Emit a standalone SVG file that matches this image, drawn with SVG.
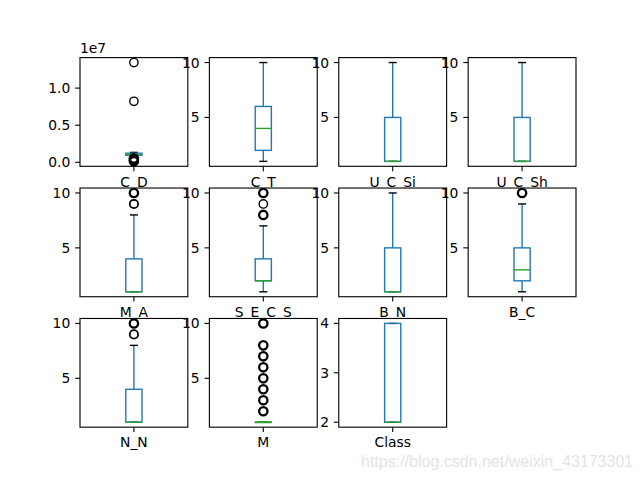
<svg xmlns="http://www.w3.org/2000/svg" width="640" height="480" viewBox="0 0 640 480">
<style>
.bg{fill:#fff;stroke:none}
.sp{fill:none;stroke:#000;stroke-width:1.11}
.wh{stroke:#1f77b4;stroke-width:1.39;fill:none}
.bx{fill:none;stroke:#1f77b4;stroke-width:1.39}
.md{stroke:#2ca02c;stroke-width:1.39}
.cp{stroke:#000;stroke-width:1.39}
.fl{fill:none;stroke:#000;stroke-width:1.39}
.fb{fill:none;stroke:#000;stroke-width:2.3}
.fm{fill:none;stroke:#000;stroke-width:1.8}
.tk{stroke:#000;stroke-width:1.11}
text{font-family:"DejaVu Sans",sans-serif;font-size:13.89px;fill:#000}
.yl{text-anchor:end}
.xl{text-anchor:middle}
.wm{font-family:"Liberation Sans",Arial,sans-serif;font-size:16px;fill:#e4e4e4}
</style>
<rect width="640" height="480" fill="#fff"/>

<g id="ax-C_D">
<rect class="bg" x="80" y="57.6" width="107.83" height="108.7"/>
<line class="wh" x1="133.91" y1="153.2" x2="133.91" y2="152.4"/>
<line class="wh" x1="133.91" y1="155.2" x2="133.91" y2="156.6"/>
<line class="cp" x1="129.87" y1="152.4" x2="137.95" y2="152.4"/>
<line class="cp" x1="129.87" y1="156.6" x2="137.95" y2="156.6"/>
<rect class="bx" x="125.82" y="153.2" width="16.18" height="2"/>
<line class="md" x1="125.82" y1="154.2" x2="142" y2="154.2"/>
<circle class="fl" cx="133.91" cy="62.54" r="4.17"/>
<circle class="fl" cx="133.91" cy="101.3" r="4.17"/>
<circle class="fb" cx="133.91" cy="158.4" r="4.17"/>
<circle class="fb" cx="133.91" cy="159.8" r="4.17"/>
<circle class="fb" cx="133.91" cy="161.36" r="4.17"/>
<rect class="sp" x="80" y="57.6" width="107.83" height="108.7"/>
<line class="tk" x1="75.14" y1="162.3" x2="80" y2="162.3"/>
<line class="tk" x1="75.14" y1="125.2" x2="80" y2="125.2"/>
<line class="tk" x1="75.14" y1="88.1" x2="80" y2="88.1"/>
<text class="yl" x="70.28" y="167.35">0.0</text>
<text class="yl" x="70.28" y="130.25">0.5</text>
<text class="yl" x="70.28" y="93.15">1.0</text>
<text x="80" y="53.3">1e7</text>
<line class="tk" x1="133.91" y1="166.3" x2="133.91" y2="171.16"/>
<text class="xl" x="133.91" y="186.6">C_D</text>
</g>

<g id="ax-C_T">
<rect class="bg" x="209.39" y="57.6" width="107.83" height="108.7"/>
<line class="wh" x1="263.3" y1="150.38" x2="263.3" y2="161.36"/>
<line class="wh" x1="263.3" y1="106.46" x2="263.3" y2="62.54"/>
<line class="cp" x1="259.26" y1="161.36" x2="267.34" y2="161.36"/>
<line class="cp" x1="259.26" y1="62.54" x2="267.34" y2="62.54"/>
<rect class="bx" x="255.21" y="106.46" width="16.18" height="43.92"/>
<line class="md" x1="255.21" y1="128.42" x2="271.39" y2="128.42"/>
<rect class="sp" x="209.39" y="57.6" width="107.83" height="108.7"/>
<line class="tk" x1="204.53" y1="117.44" x2="209.39" y2="117.44"/>
<line class="tk" x1="204.53" y1="62.54" x2="209.39" y2="62.54"/>
<text class="yl" x="199.67" y="122.49">5</text>
<text class="yl" x="199.67" y="67.59">10</text>
<line class="tk" x1="263.3" y1="166.3" x2="263.3" y2="171.16"/>
<text class="xl" x="263.3" y="186.6">C_T</text>
</g>

<g id="ax-U_C_Si">
<rect class="bg" x="338.78" y="57.6" width="107.83" height="108.7"/>
<line class="wh" x1="392.7" y1="117.44" x2="392.7" y2="62.54"/>
<line class="cp" x1="388.66" y1="161.36" x2="396.74" y2="161.36"/>
<line class="cp" x1="388.66" y1="62.54" x2="396.74" y2="62.54"/>
<rect class="bx" x="384.61" y="117.44" width="16.18" height="43.92"/>
<line class="md" x1="384.61" y1="161.36" x2="400.79" y2="161.36"/>
<rect class="sp" x="338.78" y="57.6" width="107.83" height="108.7"/>
<line class="tk" x1="333.92" y1="117.44" x2="338.78" y2="117.44"/>
<line class="tk" x1="333.92" y1="62.54" x2="338.78" y2="62.54"/>
<text class="yl" x="329.06" y="122.49">5</text>
<text class="yl" x="329.06" y="67.59">10</text>
<line class="tk" x1="392.7" y1="166.3" x2="392.7" y2="171.16"/>
<text class="xl" x="392.7" y="186.6">U_C_Si</text>
</g>

<g id="ax-U_C_Sh">
<rect class="bg" x="468.17" y="57.6" width="107.83" height="108.7"/>
<line class="wh" x1="522.09" y1="117.44" x2="522.09" y2="62.54"/>
<line class="cp" x1="518.05" y1="161.36" x2="526.13" y2="161.36"/>
<line class="cp" x1="518.05" y1="62.54" x2="526.13" y2="62.54"/>
<rect class="bx" x="514" y="117.44" width="16.18" height="43.92"/>
<line class="md" x1="514" y1="161.36" x2="530.18" y2="161.36"/>
<rect class="sp" x="468.17" y="57.6" width="107.83" height="108.7"/>
<line class="tk" x1="463.31" y1="117.44" x2="468.17" y2="117.44"/>
<line class="tk" x1="463.31" y1="62.54" x2="468.17" y2="62.54"/>
<text class="yl" x="458.45" y="122.49">5</text>
<text class="yl" x="458.45" y="67.59">10</text>
<line class="tk" x1="522.09" y1="166.3" x2="522.09" y2="171.16"/>
<text class="xl" x="522.09" y="186.6">U_C_Sh</text>
</g>

<g id="ax-M_A">
<rect class="bg" x="80" y="188.03" width="107.83" height="108.7"/>
<line class="wh" x1="133.91" y1="258.85" x2="133.91" y2="214.93"/>
<line class="cp" x1="129.87" y1="291.79" x2="137.95" y2="291.79"/>
<line class="cp" x1="129.87" y1="214.93" x2="137.95" y2="214.93"/>
<rect class="bx" x="125.82" y="258.85" width="16.18" height="32.94"/>
<line class="md" x1="125.82" y1="291.79" x2="142" y2="291.79"/>
<circle class="fm" cx="133.91" cy="203.95" r="4.17"/>
<circle class="fb" cx="133.91" cy="192.97" r="4.17"/>
<rect class="sp" x="80" y="188.03" width="107.83" height="108.7"/>
<line class="tk" x1="75.14" y1="247.87" x2="80" y2="247.87"/>
<line class="tk" x1="75.14" y1="192.97" x2="80" y2="192.97"/>
<text class="yl" x="70.28" y="252.92">5</text>
<text class="yl" x="70.28" y="198.02">10</text>
<line class="tk" x1="133.91" y1="296.73" x2="133.91" y2="301.59"/>
<text class="xl" x="133.91" y="317.03">M_A</text>
</g>

<g id="ax-S_E_C_S">
<rect class="bg" x="209.39" y="188.03" width="107.83" height="108.7"/>
<line class="wh" x1="263.3" y1="280.81" x2="263.3" y2="291.79"/>
<line class="wh" x1="263.3" y1="258.85" x2="263.3" y2="225.91"/>
<line class="cp" x1="259.26" y1="291.79" x2="267.34" y2="291.79"/>
<line class="cp" x1="259.26" y1="225.91" x2="267.34" y2="225.91"/>
<rect class="bx" x="255.21" y="258.85" width="16.18" height="21.96"/>
<line class="md" x1="255.21" y1="280.81" x2="271.39" y2="280.81"/>
<circle class="fb" cx="263.3" cy="214.93" r="4.17"/>
<circle class="fl" cx="263.3" cy="203.95" r="4.17"/>
<circle class="fb" cx="263.3" cy="192.97" r="4.17"/>
<rect class="sp" x="209.39" y="188.03" width="107.83" height="108.7"/>
<line class="tk" x1="204.53" y1="247.87" x2="209.39" y2="247.87"/>
<line class="tk" x1="204.53" y1="192.97" x2="209.39" y2="192.97"/>
<text class="yl" x="199.67" y="252.92">5</text>
<text class="yl" x="199.67" y="198.02">10</text>
<line class="tk" x1="263.3" y1="296.73" x2="263.3" y2="301.59"/>
<text class="xl" x="263.3" y="317.03">S_E_C_S</text>
</g>

<g id="ax-B_N">
<rect class="bg" x="338.78" y="188.03" width="107.83" height="108.7"/>
<line class="wh" x1="392.7" y1="247.87" x2="392.7" y2="192.97"/>
<line class="cp" x1="388.66" y1="291.79" x2="396.74" y2="291.79"/>
<line class="cp" x1="388.66" y1="192.97" x2="396.74" y2="192.97"/>
<rect class="bx" x="384.61" y="247.87" width="16.18" height="43.92"/>
<line class="md" x1="384.61" y1="291.79" x2="400.79" y2="291.79"/>
<rect class="sp" x="338.78" y="188.03" width="107.83" height="108.7"/>
<line class="tk" x1="333.92" y1="247.87" x2="338.78" y2="247.87"/>
<line class="tk" x1="333.92" y1="192.97" x2="338.78" y2="192.97"/>
<text class="yl" x="329.06" y="252.92">5</text>
<text class="yl" x="329.06" y="198.02">10</text>
<line class="tk" x1="392.7" y1="296.73" x2="392.7" y2="301.59"/>
<text class="xl" x="392.7" y="317.03">B_N</text>
</g>

<g id="ax-B_C">
<rect class="bg" x="468.17" y="188.03" width="107.83" height="108.7"/>
<line class="wh" x1="522.09" y1="280.81" x2="522.09" y2="291.79"/>
<line class="wh" x1="522.09" y1="247.87" x2="522.09" y2="203.95"/>
<line class="cp" x1="518.05" y1="291.79" x2="526.13" y2="291.79"/>
<line class="cp" x1="518.05" y1="203.95" x2="526.13" y2="203.95"/>
<rect class="bx" x="514" y="247.87" width="16.18" height="32.94"/>
<line class="md" x1="514" y1="269.83" x2="530.18" y2="269.83"/>
<circle class="fb" cx="522.09" cy="192.97" r="4.17"/>
<rect class="sp" x="468.17" y="188.03" width="107.83" height="108.7"/>
<line class="tk" x1="463.31" y1="247.87" x2="468.17" y2="247.87"/>
<line class="tk" x1="463.31" y1="192.97" x2="468.17" y2="192.97"/>
<text class="yl" x="458.45" y="252.92">5</text>
<text class="yl" x="458.45" y="198.02">10</text>
<line class="tk" x1="522.09" y1="296.73" x2="522.09" y2="301.59"/>
<text class="xl" x="522.09" y="317.03">B_C</text>
</g>

<g id="ax-N_N">
<rect class="bg" x="80" y="318.47" width="107.83" height="108.7"/>
<line class="wh" x1="133.91" y1="389.29" x2="133.91" y2="345.37"/>
<line class="cp" x1="129.87" y1="422.23" x2="137.95" y2="422.23"/>
<line class="cp" x1="129.87" y1="345.37" x2="137.95" y2="345.37"/>
<rect class="bx" x="125.82" y="389.29" width="16.18" height="32.94"/>
<line class="md" x1="125.82" y1="422.23" x2="142" y2="422.23"/>
<circle class="fm" cx="133.91" cy="334.39" r="4.17"/>
<circle class="fb" cx="133.91" cy="323.41" r="4.17"/>
<rect class="sp" x="80" y="318.47" width="107.83" height="108.7"/>
<line class="tk" x1="75.14" y1="378.31" x2="80" y2="378.31"/>
<line class="tk" x1="75.14" y1="323.41" x2="80" y2="323.41"/>
<text class="yl" x="70.28" y="383.36">5</text>
<text class="yl" x="70.28" y="328.46">10</text>
<line class="tk" x1="133.91" y1="427.17" x2="133.91" y2="432.03"/>
<text class="xl" x="133.91" y="447.47">N_N</text>
</g>

<g id="ax-M">
<rect class="bg" x="209.39" y="318.47" width="107.83" height="108.7"/>
<line class="cp" x1="259.26" y1="422.23" x2="267.34" y2="422.23"/>
<rect class="bx" x="255.21" y="422.23" width="16.18" height="0.01"/>
<line class="md" x1="255.21" y1="422.23" x2="271.39" y2="422.23" style="stroke-width:2"/>
<circle class="fb" cx="263.3" cy="411.25" r="4.17"/>
<circle class="fb" cx="263.3" cy="400.27" r="4.17"/>
<circle class="fb" cx="263.3" cy="389.29" r="4.17"/>
<circle class="fb" cx="263.3" cy="378.31" r="4.17"/>
<circle class="fb" cx="263.3" cy="367.33" r="4.17"/>
<circle class="fb" cx="263.3" cy="356.35" r="4.17"/>
<circle class="fb" cx="263.3" cy="345.37" r="4.17"/>
<circle class="fb" cx="263.3" cy="323.41" r="4.17"/>
<rect class="sp" x="209.39" y="318.47" width="107.83" height="108.7"/>
<line class="tk" x1="204.53" y1="378.31" x2="209.39" y2="378.31"/>
<line class="tk" x1="204.53" y1="323.41" x2="209.39" y2="323.41"/>
<text class="yl" x="199.67" y="383.36">5</text>
<text class="yl" x="199.67" y="328.46">10</text>
<line class="tk" x1="263.3" y1="427.17" x2="263.3" y2="432.03"/>
<text class="xl" x="263.3" y="447.47">M</text>
</g>

<g id="ax-Class">
<rect class="bg" x="338.78" y="318.47" width="107.83" height="108.7"/>
<line class="cp" x1="388.66" y1="422.23" x2="396.74" y2="422.23"/>
<line class="cp" x1="388.66" y1="323.41" x2="396.74" y2="323.41"/>
<rect class="bx" x="384.61" y="323.41" width="16.18" height="98.82"/>
<line class="md" x1="384.61" y1="422.23" x2="400.79" y2="422.23"/>
<rect class="sp" x="338.78" y="318.47" width="107.83" height="108.7"/>
<line class="tk" x1="333.92" y1="422.23" x2="338.78" y2="422.23"/>
<line class="tk" x1="333.92" y1="372.82" x2="338.78" y2="372.82"/>
<line class="tk" x1="333.92" y1="323.41" x2="338.78" y2="323.41"/>
<text class="yl" x="329.06" y="427.28">2</text>
<text class="yl" x="329.06" y="377.87">3</text>
<text class="yl" x="329.06" y="328.46">4</text>
<line class="tk" x1="392.7" y1="427.17" x2="392.7" y2="432.03"/>
<text class="xl" x="392.7" y="447.47">Class</text>
</g>

<g id="connectors"></g>

<text class="wm" x="361" y="467">https://blog.csdn.net/weixin_43173301</text>
</svg>
